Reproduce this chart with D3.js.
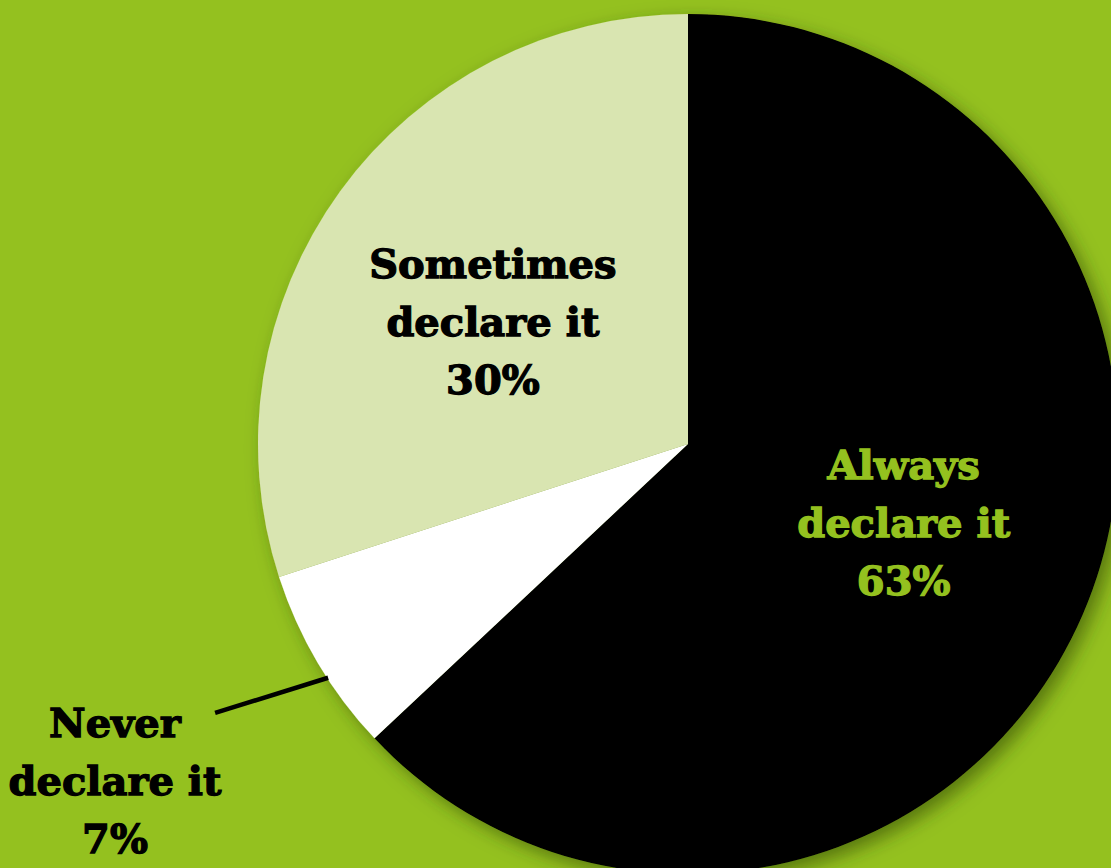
<!DOCTYPE html>
<html>
<head>
<meta charset="utf-8">
<script src="https://cdn.jsdelivr.net/npm/d3@7/dist/d3.min.js"></script>
<style>
  html, body { margin: 0; padding: 0; background: #94c11f; overflow: hidden; }
  svg { display: block; }
  text { font-family: "DejaVu Serif", serif; font-weight: bold; }
</style>
</head>
<body>
<svg id="chart" width="1111" height="868"></svg>
<script>
// chart data
const categories = ["Always declare it", "Never declare it", "Sometimes declare it"];
const shares = [63, 7, 30];
const labelLines = [["Always", "declare it", "63%"], ["Never", "declare it", "7%"], ["Sometimes", "declare it", "30%"]];

const width = 1111, height = 868;
const cx = 688, cy = 444, radius = 430;
const bg = "#94c11f";

const color = d3.scaleOrdinal()
  .domain(categories)
  .range(["#000000", "#ffffff", "#d9e5b1"]);
const textColor = d3.scaleOrdinal()
  .domain(categories)
  .range([bg, "#000000", "#000000"]);

const svg = d3.select("#chart");
svg.append("rect").attr("width", width).attr("height", height).attr("fill", bg);

const defs = svg.append("defs");
const shadow = defs.append("filter").attr("id", "shadow")
  .attr("x", "-20%").attr("y", "-20%").attr("width", "140%").attr("height", "140%");
shadow.append("feDropShadow")
  .attr("dx", 7).attr("dy", 7).attr("stdDeviation", 9)
  .attr("flood-color", "#2c3a05").attr("flood-opacity", 0.55);

const data = categories.map((c, i) => ({ name: c, value: shares[i], lines: labelLines[i] }));
const pie = d3.pie().sort(null).value(d => d.value);
const arcs = pie(data);
const arc = d3.arc().innerRadius(0).outerRadius(radius);

const g = svg.append("g").attr("transform", `translate(${cx},${cy})`);
g.append("g").attr("filter", "url(#shadow)")
  .selectAll("path").data(arcs).join("path")
  .attr("d", arc)
  .attr("fill", d => color(d.data.name));

const fontSize = 40, lineH = 58;
// label placement: inside slices via centroid, "Never" outside with leader line
const labelArc = d3.arc().innerRadius(235).outerRadius(235);
const nudge = { "Sometimes declare it": [-5, 30], "Always declare it": [0, 0] };
const mid = d => (d.startAngle + d.endAngle) / 2;

arcs.forEach(d => {
  let x, y;
  if (d.data.name === "Never declare it") {
    const a = mid(d);
    const p0 = [Math.sin(a - 0.042) * radius * 0.998, -Math.cos(a - 0.042) * radius * 0.998];
    const p1 = [Math.sin(a + 0.017) * 544, -Math.cos(a + 0.017) * 544];
    g.append("line")
      .attr("x1", p0[0]).attr("y1", p0[1]).attr("x2", p1[0]).attr("y2", p1[1])
      .attr("stroke", "#000").attr("stroke-width", 4.5);
    x = 115 - cx;
    y = 795 - cy;
  } else {
    const c = labelArc.centroid(d);
    const n = nudge[d.data.name];
    x = c[0] + n[0];
    y = c[1] + n[1];
  }
  const t = g.append("text")
    .attr("text-anchor", "middle")
    .attr("font-size", fontSize)
    .attr("fill", textColor(d.data.name))
    .attr("stroke", textColor(d.data.name))
    .attr("stroke-width", 1.3);
  d.data.lines.forEach((ln, i) => {
    t.append("tspan").attr("x", x).attr("y", y + (i - 1) * lineH).text(ln);
  });
});
</script>
</body>
</html>
